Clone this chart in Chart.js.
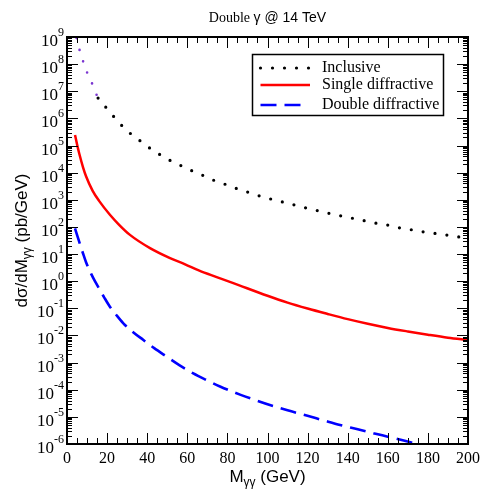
<!DOCTYPE html>
<html>
<head>
<meta charset="utf-8">
<script src="https://cdn.jsdelivr.net/npm/chart.js@4.4.1/dist/chart.umd.min.js"></script>
<style>
  html, body { margin: 0; padding: 0; background: #fff; }
  #wrap { width: 480px; height: 489px; }
</style>
</head>
<body>
<div id="wrap"><canvas id="xsecChart" width="480" height="489"></canvas></div>
<script>
// Double photon production @ 14 TeV, d(sigma)/dM in pb/GeV
const inclusiveMass = [4.8, 6, 7.5, 9.1, 11, 13, 15.5, 20, 25, 30, 36.4, 41.4, 46.4, 51.7, 57, 62.3, 68, 73.3, 79, 84.6,
  90.3, 95.9, 101.6, 107.6, 113.2, 119.2, 124.8, 130.7, 136.5, 142.3, 148.1, 154.1, 159.9, 165.7, 171.6, 177.6, 183.4, 189.4, 195.2, 200];
const inclusiveXsec = [9.1e8, 3.9e8, 1.7e8, 7.2e7, 3.4e7, 1.6e7, 5.6e6, 2.3e6, 8.3e5, 3.5e5, 1.5e5, 7.9e4, 4.6e4, 2.75e4, 1.8e4, 1.17e4, 7.8e3, 5.2e3, 3.7e3, 2.6e3,
  1.9e3, 1.4e3, 1.07e3, 830, 650, 500, 400, 316, 257, 209, 170, 138, 117, 93, 79, 66, 58, 50, 43, 39];

const singleMass = [4, 5, 6.1, 8, 9.5, 12.8, 16, 21.4, 26, 31.4, 41.4, 51.4, 58.9, 66, 74.3, 82.6, 100,
  110, 120, 130, 140, 150, 160, 170, 180, 190, 200];
const singleXsec = [2.45e5, 1.12e5, 5.1e4, 1.58e4, 7.4e3, 2.14e3, 912, 282, 120, 51, 16.6, 7.1, 4.2, 2.45, 1.45, 0.87, 0.29,
  0.162, 0.098, 0.062, 0.040, 0.027, 0.019, 0.0141, 0.0107, 0.0083, 0.0068];

const doubleMass = [4, 5, 6.5, 8, 9.5, 12, 14, 16.5, 18.6, 21.4, 24.5, 28.1, 33, 38.1, 43.5, 49.7, 56, 63, 70, 76.3,
  86.3, 95, 102.9, 110, 119.5, 128, 136.2, 145, 152.8, 160, 169.4, 176];
const doubleXsec = [89, 51, 23, 10.5, 5.0, 1.9, 0.98, 0.47, 0.25, 0.115, 0.058, 0.028, 0.0132, 0.0068, 0.0034, 0.00166, 8.1e-4, 4.0e-4, 2.2e-4, 1.32e-4,
  6.6e-5, 3.9e-5, 2.5e-5, 1.74e-5, 1.12e-5, 7.4e-6, 5.0e-6, 3.5e-6, 2.5e-6, 1.86e-6, 1.26e-6, 9.5e-7];

// axis ticks
const xTicks = [0, 20, 40, 60, 80, 100, 120, 140, 160, 180, 200];
const yTickExps = [-6, -5, -4, -3, -2, -1, 0, 1, 2, 3, 4, 5, 6, 7, 8, 9];

const SERIF = '"Liberation Serif", "Times New Roman", serif';
const SANS = '"Liberation Sans", Arial, sans-serif';

function toPoints(xs, ys) {
  return xs.map((x, i) => ({ x: x, y: ys[i] }));
}

// draw text parts [text, font, dy] left to right starting at x
function drawRun(ctx, parts, x, y) {
  parts.forEach(p => {
    ctx.font = p[1];
    ctx.fillText(p[0], x, y + (p[2] || 0));
    x += ctx.measureText(p[0]).width;
  });
}
function runWidth(ctx, parts) {
  let w = 0;
  parts.forEach(p => { ctx.font = p[1]; w += ctx.measureText(p[0]).width; });
  return w;
}

// frame, inward ticks on all sides, log labels, titles, legend
const decorations = {
  id: 'decorations',
  afterDraw(chart) {
    const { ctx, chartArea: a, scales: { x, y } } = chart;
    ctx.save();
    ctx.strokeStyle = '#000';
    ctx.fillStyle = '#000';

    ctx.lineWidth = 1;
    ctx.beginPath();
    for (let v = 0; v <= 200; v += 5) {
      const px = Math.round(x.getPixelForValue(v)) + 0.5;
      const len = v % 20 === 0 ? 11 : 6;
      ctx.moveTo(px, a.bottom); ctx.lineTo(px, a.bottom - len);
      ctx.moveTo(px, a.top); ctx.lineTo(px, a.top + len);
    }
    yTickExps.forEach(e => {
      for (let m = 1; m <= 9; m++) {
        const v = m * Math.pow(10, e);
        if (v > 1e9) break;
        const py = Math.round(y.getPixelForValue(v)) + 0.5;
        const len = m === 1 ? 11 : 5;
        ctx.moveTo(a.left, py); ctx.lineTo(a.left + len, py);
        ctx.moveTo(a.right, py); ctx.lineTo(a.right - len, py);
      }
    });
    ctx.stroke();

    ctx.lineWidth = 2;
    ctx.strokeRect(a.left, a.top, a.right - a.left, a.bottom - a.top);

    // y tick labels 10^n
    ctx.textBaseline = 'alphabetic';
    ctx.textAlign = 'left';
    yTickExps.forEach(e => {
      const py = y.getPixelForValue(Math.pow(10, e));
      const parts = [['10', '17px ' + SERIF, 0], [String(e), '12px ' + SERIF, -10]];
      const w = runWidth(ctx, parts);
      drawRun(ctx, parts, a.left - 3 - w, py + 9);
    });

    // title
    const title = [['Double ', '14px ' + SERIF, 0], ['\u03b3 @ 14 TeV', '14px ' + SANS, 0]];
    const cx = (a.left + a.right) / 2;
    drawRun(ctx, title, cx - runWidth(ctx, title) / 2, 22);

    // x axis title
    const xt = [['M', '17px ' + SANS, 0], ['\u03b3\u03b3', '12px ' + SANS, 4], [' (GeV)', '17px ' + SANS, 0]];
    drawRun(ctx, xt, cx - runWidth(ctx, xt) / 2, 482);

    // y axis title
    const yt = [['d\u03c3/dM', '17px ' + SANS, 0], ['\u03b3\u03b3', '12px ' + SANS, 4], [' (pb/GeV)', '17px ' + SANS, 0]];
    ctx.save();
    ctx.translate(27, (a.top + a.bottom) / 2);
    ctx.rotate(-Math.PI / 2);
    drawRun(ctx, yt, -runWidth(ctx, yt) / 2, 0);
    ctx.restore();

    // legend box
    const bx = a.right - 215.5, by = a.top + 17.5, bw = 191, bh = 61;
    ctx.lineWidth = 1.5;
    ctx.strokeRect(bx, by, bw, bh);
    const rows = [17.5, 34.5, 54.5];
    chart.data.datasets.forEach((ds, i) => {
      const base = by + rows[i];
      ctx.save();
      ctx.strokeStyle = ds.borderColor;
      ctx.lineWidth = ds.borderWidth;
      ctx.lineCap = ds.borderCapStyle || 'butt';
      ctx.setLineDash(ds.borderDash || []);
      ctx.beginPath();
      ctx.moveTo(bx + 8, base - 4);
      ctx.lineTo(bx + (i === 2 ? 50 : 57.5), base - 4);
      ctx.stroke();
      ctx.restore();
      ctx.font = '16px ' + SERIF;
      ctx.fillText(ds.label, bx + 69.5, base);
    });
    ctx.restore();
  }
};

const ctx = document.getElementById('xsecChart').getContext('2d');
new Chart(ctx, {
  type: 'line',
  data: {
    datasets: [{
      label: 'Inclusive',
      data: toPoints(inclusiveMass, inclusiveXsec),
      borderColor: '#000000',
      borderWidth: 3.2,
      borderDash: [0, 12],
      borderCapStyle: 'round',
      cubicInterpolationMode: 'monotone',
      pointRadius: 0,
      segment: {
        borderColor: c => c.p1.parsed.x <= 15.5 ? '#7a35d0' : undefined,
        borderWidth: c => c.p1.parsed.x <= 15.5 ? 2.6 : undefined
      }
    }, {
      label: 'Single diffractive',
      data: toPoints(singleMass, singleXsec),
      borderColor: '#ff0000',
      borderWidth: 2.5,
      cubicInterpolationMode: 'monotone',
      pointRadius: 0
    }, {
      label: 'Double diffractive',
      data: toPoints(doubleMass, doubleXsec),
      borderColor: '#0000ff',
      borderWidth: 2.6,
      borderDash: [16, 8],
      cubicInterpolationMode: 'monotone',
      pointRadius: 0
    }]
  },
  options: {
    responsive: false,
    animation: false,
    layout: { padding: { top: 37, right: 12, left: 0, bottom: 0 } },
    plugins: {
      legend: { display: false },
      title: { display: false },
      tooltip: { enabled: false }
    },
    scales: {
      x: {
        type: 'linear',
        min: 0,
        max: 200,
        afterBuildTicks: s => { s.ticks = xTicks.map(v => ({ value: v })); },
        afterFit: s => { s.height = 45; s.paddingLeft = 0; s.paddingRight = 0; },
        ticks: { font: { family: SERIF, size: 16 }, color: '#000', padding: 5, maxRotation: 0, autoSkip: false },
        grid: { display: false, drawTicks: false },
        border: { display: false }
      },
      y: {
        type: 'logarithmic',
        min: 1e-6,
        max: 1e9,
        afterFit: s => { s.width = 67; },
        ticks: { display: false },
        grid: { display: false, drawTicks: false },
        border: { display: false }
      }
    }
  },
  plugins: [decorations]
});
</script>
</body>
</html>
